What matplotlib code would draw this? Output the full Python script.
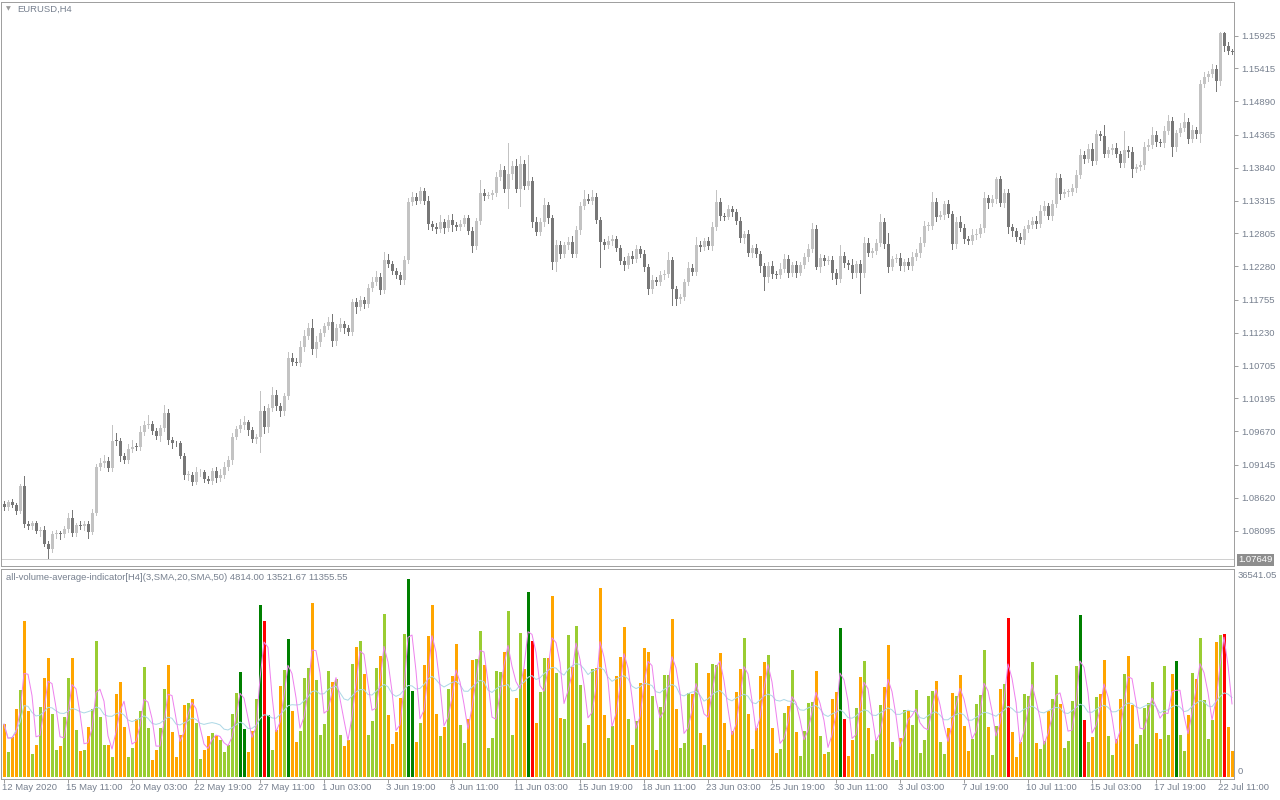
import numpy as np
import pandas as pd
import matplotlib
matplotlib.use('Agg')
from matplotlib import pyplot as plt
from matplotlib.transforms import blended_transform_factory

# EURUSD H4 closes, 12 May 2020 19:00 .. 22 Jul 2020
first_open = 1.08522
closes = [
    1.08470, 1.08553, 1.08501, 1.08416, 1.08811, 1.08205, 1.08179, 1.08216, 1.08099, 1.08111,
    1.07889, 1.07815, 1.08047, 1.08058, 1.08052, 1.08126, 1.08300, 1.08068, 1.08185, 1.08174,
    1.08205, 1.08084, 1.08379, 1.09102, 1.09166, 1.09202, 1.09091, 1.09523, 1.09518, 1.09286,
    1.09218, 1.09397, 1.09428, 1.09423, 1.09661, 1.09776, 1.09792, 1.09681, 1.09602, 1.09719,
    1.09966, 1.09534, 1.09491, 1.09482, 1.09286, 1.08980, 1.08980, 1.08874, 1.09023, 1.09023,
    1.08912, 1.08890, 1.09044, 1.08933, 1.08980, 1.09107, 1.09218, 1.09586, 1.09708, 1.09771,
    1.09819, 1.09692, 1.09550, 1.09582, 1.09993, 1.09745, 1.10040, 1.10251, 1.10072, 1.09993,
    1.10235, 1.10831, 1.10773, 1.10757, 1.11005, 1.11179, 1.11306, 1.10974, 1.11084, 1.11227,
    1.11337, 1.11401, 1.11100, 1.11306, 1.11369, 1.11310, 1.11247, 1.11717, 1.11638, 1.11749,
    1.11685, 1.11938, 1.12033, 1.12112, 1.11907, 1.12381, 1.12323, 1.12207, 1.12144, 1.12065,
    1.12381, 1.13304, 1.13383, 1.13319, 1.13473, 1.13319, 1.12951, 1.12903, 1.12876, 1.12975,
    1.12892, 1.13014, 1.12935, 1.12908, 1.12951, 1.13046, 1.12845, 1.12608, 1.12998, 1.13441,
    1.13398, 1.13402, 1.13446, 1.13694, 1.13805, 1.13509, 1.13742, 1.13873, 1.13509, 1.13905,
    1.13557, 1.13631, 1.12987, 1.12829, 1.12982, 1.13256, 1.13050, 1.12354, 1.12619, 1.12476,
    1.12619, 1.12666, 1.12476, 1.12856, 1.13236, 1.13346, 1.13319, 1.13383, 1.13019, 1.12666,
    1.12619, 1.12682, 1.12714, 1.12571, 1.12373, 1.12302, 1.12445, 1.12397, 1.12555, 1.12476,
    1.12275, 1.11927, 1.12065, 1.12033, 1.12144, 1.12160, 1.12381, 1.11927, 1.11764, 1.11796,
    1.12033, 1.12255, 1.12196, 1.12619, 1.12587, 1.12682, 1.12603, 1.12903, 1.13299, 1.13077,
    1.13062, 1.13188, 1.13141, 1.12998, 1.12729, 1.12793, 1.12492, 1.12571, 1.12476, 1.12286,
    1.12112, 1.12286, 1.12160, 1.12144, 1.12239, 1.12397, 1.12176, 1.12302, 1.12176, 1.12302,
    1.12429, 1.12555, 1.12872, 1.12271, 1.12413, 1.12366, 1.12389, 1.12176, 1.12081, 1.12445,
    1.12334, 1.12302, 1.12176, 1.12318, 1.12176, 1.12650, 1.12492, 1.12524, 1.12650, 1.12982,
    1.12634, 1.12271, 1.12397, 1.12413, 1.12286, 1.12350, 1.12286, 1.12429, 1.12492, 1.12650,
    1.12919, 1.12919, 1.13299, 1.13062, 1.13093, 1.13267, 1.13109, 1.12634, 1.12982, 1.12888,
    1.12714, 1.12682, 1.12777, 1.12793, 1.12888, 1.13362, 1.13283, 1.13346, 1.13663, 1.13283,
    1.13441, 1.12903, 1.12840, 1.12745, 1.12698, 1.12872, 1.12935, 1.12998, 1.12951, 1.13156,
    1.13236, 1.13077, 1.13267, 1.13678, 1.13425, 1.13457, 1.13457, 1.13520, 1.13726, 1.14042,
    1.13979, 1.14137, 1.13947, 1.14374, 1.14343, 1.14058, 1.14121, 1.14153, 1.14058, 1.13916,
    1.14121, 1.14090, 1.13821, 1.13852, 1.13884, 1.14169, 1.14200, 1.14359, 1.14248, 1.14232,
    1.14422, 1.14580, 1.14169, 1.14390, 1.14469, 1.14564, 1.14295, 1.14438, 1.14374, 1.15165,
    1.15276, 1.15324, 1.15403, 1.15213, 1.15972, 1.15766, 1.15687, 1.15672,
]

# upper / lower shadows in pips
wick_up = [
    4, 3, 5, 3, 2, 15, 4, 3, 4, 5, 6, 4, 5, 6, 4, 5, 8, 12, 4, 6,
    5, 4, 6, 5, 8, 10, 6, 25, 12, 5, 4, 8, 10, 6, 9, 6, 14, 5, 4, 6,
    12, 6, 5, 3, 4, 5, 6, 4, 8, 5, 4, 6, 5, 7, 10, 8, 6, 6, 5, 9,
    10, 3, 5, 5, 32, 8, 6, 12, 8, 5, 4, 10, 8, 6, 10, 9, 8, 14, 10, 6,
    5, 8, 12, 6, 10, 5, 4, 5, 6, 7, 5, 6, 8, 10, 6, 12, 10, 5, 4, 5,
    7, 6, 8, 5, 6, 4, 8, 5, 6, 12, 6, 8, 10, 5, 6, 5, 4, 6, 5, 20,
    6, 5, 5, 8, 10, 6, 49, 8, 10, 12, 6, 41, 6, 8, 6, 10, 5, 4, 8, 6,
    5, 8, 10, 6, 6, 14, 8, 10, 6, 4, 5, 8, 6, 5, 4, 6, 5, 8, 6, 5,
    6, 4, 8, 5, 6, 6, 12, 4, 5, 4, 5, 10, 6, 12, 6, 5, 6, 8, 19, 6,
    5, 6, 4, 5, 6, 5, 6, 5, 6, 4, 5, 6, 8, 5, 10, 8, 6, 5, 6, 5,
    6, 8, 10, 6, 6, 5, 6, 5, 6, 17, 6, 5, 10, 5, 6, 10, 8, 5, 6, 12,
    6, 17, 5, 6, 8, 5, 6, 8, 6, 10, 8, 6, 16, 6, 6, 5, 6, 4, 8, 10,
    6, 5, 10, 8, 6, 10, 5, 6, 3, 5, 6, 6, 4, 5, 6, 5, 8, 6, 8, 10,
    8, 5, 6, 8, 6, 5, 4, 6, 8, 10, 6, 8, 10, 7, 4, 17, 5, 6, 8, 5,
    30, 6, 8, 5, 6, 8, 10, 12, 6, 5, 8, 10, 6, 5, 8, 14, 6, 8, 5, 6,
    8, 5, 8, 6, 2, 2, 6, 3,
]
wick_dn = [
    5, 4, 3, 6, 4, 5, 6, 5, 4, 8, 3, 14, 5, 6, 8, 6, 4, 6, 5, 4,
    6, 10, 4, 3, 5, 6, 5, 4, 6, 8, 5, 4, 6, 5, 4, 5, 6, 6, 5, 8,
    5, 6, 8, 5, 4, 6, 8, 5, 4, 6, 5, 4, 5, 6, 5, 4, 5, 6, 4, 5,
    6, 8, 5, 6, 23, 10, 8, 5, 6, 8, 6, 5, 6, 4, 5, 6, 5, 8, 12, 6,
    5, 4, 8, 6, 5, 8, 5, 6, 10, 5, 6, 4, 5, 4, 6, 5, 6, 4, 5, 6,
    6, 5, 6, 5, 4, 6, 8, 5, 6, 5, 8, 6, 10, 6, 5, 4, 6, 10, 6, 5,
    6, 4, 5, 6, 5, 6, 30, 8, 6, 27, 6, 5, 8, 6, 5, 6, 8, 12, 15, 6,
    5, 6, 4, 5, 6, 5, 4, 5, 6, 39, 6, 5, 6, 5, 6, 8, 5, 6, 5, 4,
    6, 8, 6, 5, 4, 6, 5, 25, 10, 6, 5, 4, 6, 5, 6, 5, 4, 6, 5, 6,
    5, 4, 6, 5, 6, 8, 5, 6, 5, 10, 20, 8, 6, 5, 4, 5, 6, 5, 6, 4,
    5, 6, 5, 4, 8, 6, 5, 10, 8, 5, 6, 6, 8, 6, 32, 6, 5, 6, 5, 4,
    6, 8, 5, 4, 6, 8, 5, 6, 5, 6, 5, 6, 5, 6, 4, 6, 5, 8, 6, 5,
    6, 5, 4, 6, 5, 6, 8, 5, 6, 5, 6, 10, 8, 6, 5, 6, 5, 4, 6, 5,
    6, 5, 6, 4, 8, 5, 6, 5, 6, 4, 6, 5, 6, 5, 6, 4, 5, 6, 5, 6,
    6, 8, 13, 5, 4, 6, 5, 4, 6, 5, 6, 5, 14, 6, 5, 4, 6, 5, 6, 13,
    5, 6, 5, 16, 6, 8, 5, 4,
]

volumes = [
    9778, 4612, 7380, 12669, 16051, 28782, 12177, 4243, 5904, 12915,
    18265, 21955, 11623, 4981, 5719, 11070, 18265, 21955, 8671, 4797,
    4981, 9225, 12546, 25092, 11070, 5904, 5904, 3690, 15313, 17527,
    9225, 3690, 5350, 10701, 12177, 20295, 9040, 3136, 4981, 9040,
    16236, 20664, 8302, 3690, 7749, 13284, 13653, 14391, 9963, 3321,
    4981, 7564, 8118, 7564, 6826, 4612, 5904, 11623, 15498, 19372,
    8856, 4612, 8487, 14391, 31734, 28782, 11439, 4981, 8671, 16789,
    19741, 25461, 12177, 6457, 8487, 18265, 20110, 32103, 17896, 7749,
    9778, 19557, 17527, 18081, 7749, 5719, 6826, 20848, 23985, 25092,
    19003, 7749, 10332, 20110, 22324, 30073, 11439, 6088, 8302, 14575,
    26383, 36541, 15867, 6457, 9963, 20664, 26014, 31734, 11623, 7564,
    9225, 16236, 18634, 24538, 9594, 6273, 10701, 21586, 21771, 26937,
    20664, 5350, 7195, 19557, 19372, 23062, 30627, 7749, 14575, 26568,
    19926, 34132, 25092, 9963, 15682, 21955, 21955, 33394, 19188, 10885,
    10701, 26199, 20295, 27859, 16974, 6273, 9594, 19926, 20110, 35055,
    11439, 7195, 9409, 18634, 22140, 27675, 10701, 5904, 10332, 17343,
    23800, 23062, 14944, 4981, 12915, 18819, 18819, 29151, 12546, 5350,
    6273, 15498, 15313, 21033, 8118, 5904, 19188, 20848, 20664, 22878,
    9963, 4981, 8487, 15682, 19926, 25646, 11623, 5166, 9040, 18634,
    21218, 22509, 9040, 4428, 5166, 11808, 13100, 19741, 8302, 3875,
    8487, 13653, 13838, 19557, 7564, 4243, 4612, 14514, 15682, 27491,
    10701, 3875, 6826, 12731, 18450, 21402, 9040, 4243, 6826, 13284,
    16605, 24354, 6457, 3136, 7195, 12362, 12177, 9594, 16051, 4428,
    6826, 14944, 15867, 17712, 6457, 4243, 9040, 15498, 14944, 18819,
    9409, 4797, 7011, 13469, 15129, 23432, 9225, 4059, 9409, 16236,
    17159, 29336, 8302, 3690, 6457, 15313, 14944, 21218, 6273, 5166,
    6642, 12177, 14391, 18819, 13469, 5350, 6642, 14022, 20480, 29889,
    10517, 6457, 7380, 14760, 15313, 21586, 7564, 4059, 7011, 14391,
    19003, 22324, 13284, 6088, 7749, 12731, 13653, 17527, 8118, 7011,
    20480, 7749, 19003, 21402, 7749, 4797, 11439, 19188, 18081, 25646,
    14207, 7011, 10517, 24908, 26199, 26500, 9251, 4814,
]

# bars drawn in the strong colours
spike_up = [59, 60, 64, 66, 71, 101, 102, 131, 209, 269, 293]
spike_dn = [65, 132, 210, 251, 270, 305]

date_labels = ['12 May 2020', '15 May 11:00', '20 May 03:00', '22 May 19:00',
               '27 May 11:00', '1 Jun 03:00', '3 Jun 19:00', '8 Jun 11:00',
               '11 Jun 03:00', '15 Jun 19:00', '18 Jun 11:00', '23 Jun 03:00',
               '25 Jun 19:00', '30 Jun 11:00', '3 Jul 03:00', '7 Jul 19:00',
               '10 Jul 11:00', '15 Jul 03:00', '17 Jul 19:00', '22 Jul 11:00']
date_pos = list(range(0, 305, 16))

price_ticks = [1.15925, 1.15415, 1.14890, 1.14365, 1.13840, 1.13315, 1.12805,
               1.12280, 1.11755, 1.11230, 1.10705, 1.10195, 1.09670, 1.09145,
               1.08620, 1.08095]
low_line = 1.07649
vol_max_label = '36541.05'
ind_label = 'all-volume-average-indicator[H4](3,SMA,20,SMA,50) 4814.00 13521.67 11355.55'

W, H = 1280, 800
txt = '#77808f'
frame = '#a0a0a0'
fnt = 'Liberation Sans'
px = 0.72

n = len(closes)
x = np.arange(n)
c = np.array(closes)
o = np.array([first_open] + closes[:-1])
hi = np.maximum(o, c) + np.array(wick_up) * 0.0001
lo = np.minimum(o, c) - np.array(wick_dn) * 0.0001
bull = c >= o
ccol = np.where(bull, '#c3c3c3', '#777777')

fig = plt.figure(figsize=(W / 100, H / 100), dpi=100)
fig.patch.set_facecolor('white')

def fax(l, t, r, b):
    return [l / W, 1 - b / H, (r - l) / W, (b - t) / H]

ax = fig.add_axes(fax(1, 2, 1234, 566))
ax2 = fig.add_axes(fax(1, 569, 1234, 779))

# price panel
ax.vlines(x, lo, hi, colors=ccol, linewidth=px, antialiased=False)
body = np.maximum(np.abs(c - o), 0.00012)
ax.bar(x, body, bottom=np.minimum(o, c), width=0.75, color=ccol, linewidth=0,
       antialiased=False)
ax.axhline(low_line, color='#d0d0d0', linewidth=px)
ax.set_xlim(-0.75, 307.5)
ax.set_ylim(1.07541, 1.16462)
ax.yaxis.tick_right()
ax.set_yticks(price_ticks)
ax.set_yticklabels(['%.5f' % v for v in price_ticks])
ax.set_xticks([])
ax.tick_params(axis='y', length=3, width=px, color=frame, colors=txt,
               labelsize=6.8, pad=2)
for lab in ax.get_yticklabels():
    lab.set_fontfamily(fnt)
for s in ax.spines.values():
    s.set_color(frame)
    s.set_linewidth(px)
ax.text(1238 / W, 1 - 560 / H, '%.5f' % low_line, transform=fig.transFigure,
        fontsize=6.8, family=fnt, color='white', va='center', ha='left',
        bbox=dict(boxstyle='square,pad=0.15', fc='#8e8e8e', ec='none'))
fig.text(6 / W, 1 - 9 / H, '\u25bc', fontsize=4.5, color='#9a9a9a', va='center')
fig.text(17 / W, 1 - 9 / H, 'EURUSD,H4', fontsize=6.8, family=fnt, color=txt,
         va='center')

# volume panel
vcol = np.where(bull, '#9acd32', '#ffa500').astype(object)
vcol[spike_up] = '#008000'
vcol[spike_dn] = '#ff0000'
ax2.bar(x, volumes, width=0.75, color=list(vcol), linewidth=0, antialiased=False)
vs = pd.Series(volumes, dtype=float)
ax2.plot(x, vs.rolling(20, min_periods=1).mean(), color='#add8e6', linewidth=px)
ax2.plot(x, vs.rolling(3, min_periods=1).mean(), color='#ee82ee', linewidth=px)
ax2.set_xlim(-0.75, 307.5)
ax2.set_ylim(-369, 38479)
ax2.set_yticks([])
ax2.set_xticks(date_pos)
ax2.set_xticklabels([])
ax2.tick_params(axis='x', length=3, width=px, color=frame)
for s in ax2.spines.values():
    s.set_color(frame)
    s.set_linewidth(px)
tr = blended_transform_factory(ax2.transData, fig.transFigure)
for p, lab in zip(date_pos, date_labels):
    ax2.text(p - 0.5, 1 - 788 / H, lab, transform=tr, fontsize=6.8, family=fnt,
             color=txt, ha='left', va='center', clip_on=False)
fig.text(1238 / W, 1 - 576 / H, vol_max_label, fontsize=6.8, family=fnt,
         color=txt, va='center')
fig.text(1238 / W, 1 - 772 / H, '0', fontsize=6.8, family=fnt, color=txt,
         va='center')
fig.text(6 / W, 1 - 577 / H, ind_label, fontsize=6.8, family=fnt, color=txt,
         va='center')

plt.savefig('out.png', dpi=100)
